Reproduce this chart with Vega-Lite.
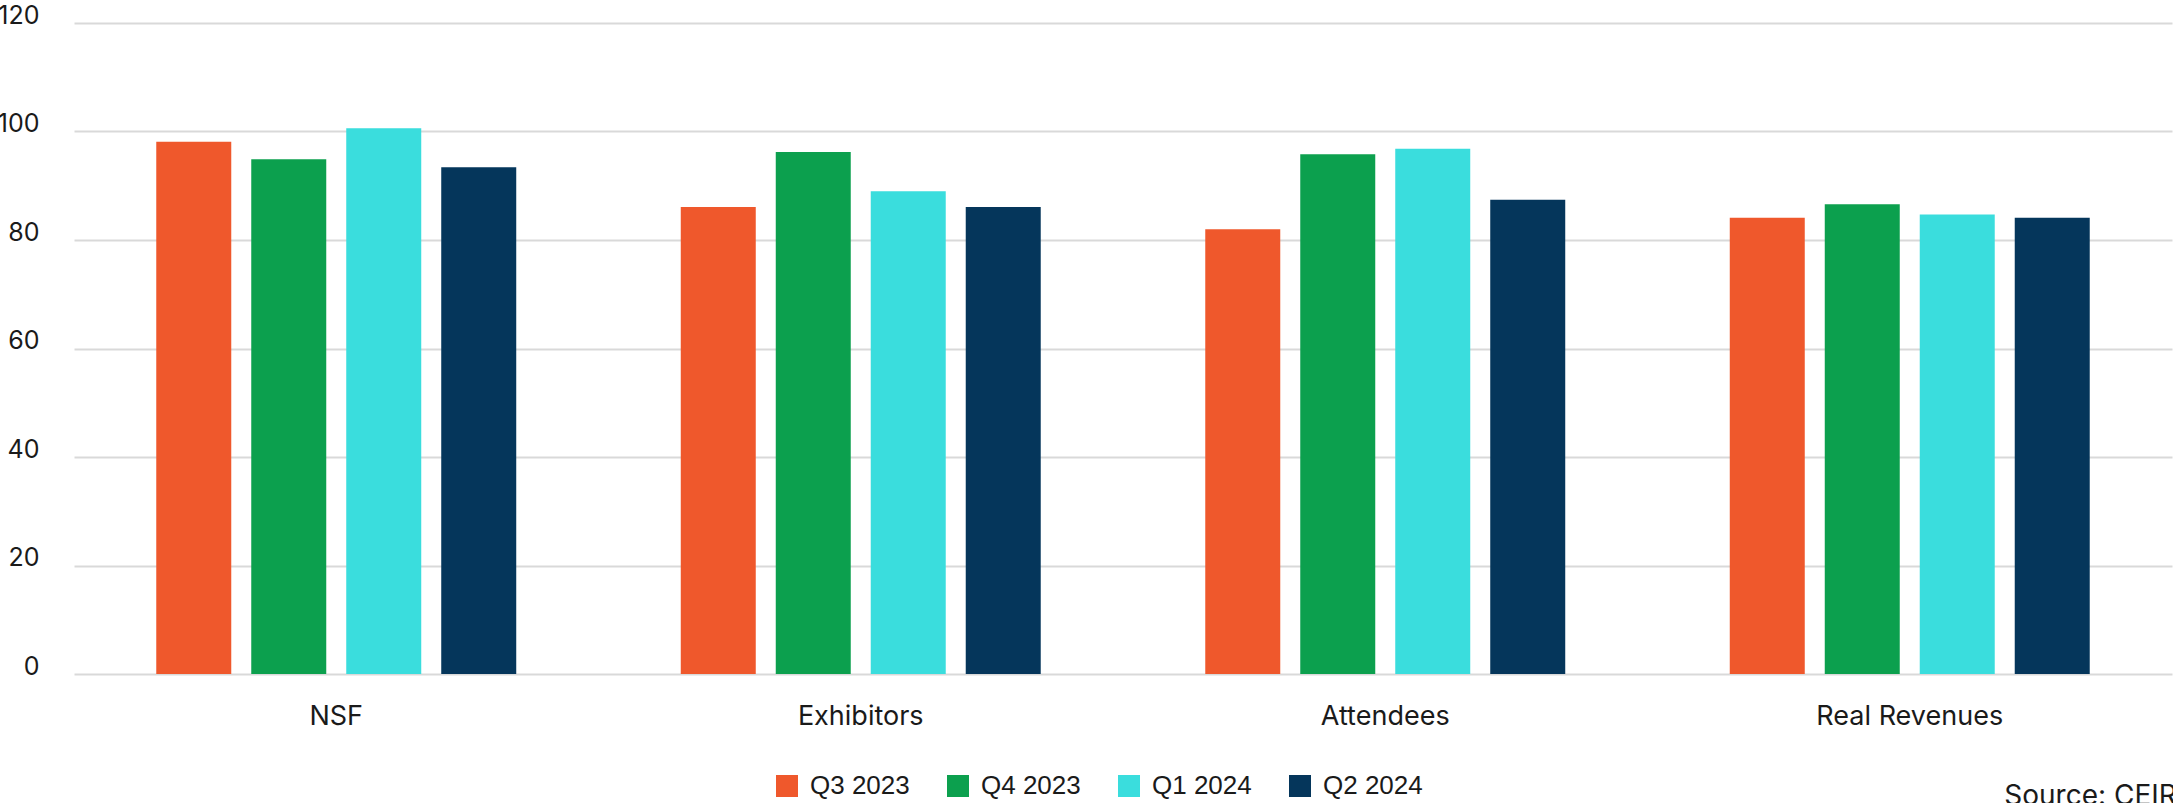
{
  "$schema": "https://vega.github.io/schema/vega-lite/v6.json",
  "width": 2098,
  "height": 651,
  "autosize": {"type": "none"},
  "padding": {"left": 74, "top": 23, "right": 1, "bottom": 129},
  "background": "#ffffff",
  "title": {
    "text": "Source: CEIR",
    "orient": "bottom",
    "anchor": "start",
    "dx": 2007,
    "offset": -16,
    "font": "Inter",
    "fontSize": 28,
    "fontWeight": "normal",
    "color": "#1a1a1a"
  },
  "data": {
    "values": [
      {"metric": "NSF", "quarter": "Q3 2023", "value": 98.1},
      {"metric": "NSF", "quarter": "Q4 2023", "value": 94.9},
      {"metric": "NSF", "quarter": "Q1 2024", "value": 100.6},
      {"metric": "NSF", "quarter": "Q2 2024", "value": 93.4},
      {"metric": "Exhibitors", "quarter": "Q3 2023", "value": 86.1},
      {"metric": "Exhibitors", "quarter": "Q4 2023", "value": 96.2},
      {"metric": "Exhibitors", "quarter": "Q1 2024", "value": 89.0},
      {"metric": "Exhibitors", "quarter": "Q2 2024", "value": 86.1},
      {"metric": "Attendees", "quarter": "Q3 2023", "value": 82.0},
      {"metric": "Attendees", "quarter": "Q4 2023", "value": 95.8},
      {"metric": "Attendees", "quarter": "Q1 2024", "value": 96.8},
      {"metric": "Attendees", "quarter": "Q2 2024", "value": 87.4},
      {"metric": "Real Revenues", "quarter": "Q3 2023", "value": 84.1},
      {"metric": "Real Revenues", "quarter": "Q4 2023", "value": 86.6},
      {"metric": "Real Revenues", "quarter": "Q1 2024", "value": 84.7},
      {"metric": "Real Revenues", "quarter": "Q2 2024", "value": 84.1}
    ]
  },
  "mark": {"type": "bar"},
  "encoding": {
    "x": {
      "field": "metric",
      "type": "nominal",
      "sort": ["NSF", "Exhibitors", "Attendees", "Real Revenues"],
      "scale": {"paddingInner": 0, "paddingOuter": 0},
      "axis": {
        "title": null,
        "domain": false,
        "ticks": false,
        "labelAngle": 0,
        "labelLimit": 0,
        "labelPadding": 29,
        "labelFont": "Inter",
        "labelFontSize": 27,
        "labelColor": "#1a1a1a"
      }
    },
    "xOffset": {
      "field": "quarter",
      "type": "nominal",
      "sort": ["Q3 2023", "Q4 2023", "Q1 2024", "Q2 2024"],
      "scale": {"paddingInner": 0.2105, "paddingOuter": 0.866}
    },
    "y": {
      "field": "value",
      "type": "quantitative",
      "scale": {"domain": [0, 120], "nice": false},
      "axis": {
        "title": null,
        "values": [0, 20, 40, 60, 80, 100, 120],
        "domain": false,
        "ticks": false,
        "grid": true,
        "gridColor": "#d9d9d9",
        "gridWidth": 2,
        "labelPadding": 35,
        "labelBaseline": "alphabetic",
        "labelFont": "Inter",
        "labelFontSize": 25,
        "labelColor": "#1a1a1a"
      }
    },
    "color": {
      "field": "quarter",
      "type": "nominal",
      "sort": ["Q3 2023", "Q4 2023", "Q1 2024", "Q2 2024"],
      "scale": {
        "domain": ["Q3 2023", "Q4 2023", "Q1 2024", "Q2 2024"],
        "range": ["#EF582C", "#0CA04E", "#3ADDDD", "#05365B"]
      },
      "legend": {
        "title": null,
        "orient": "none",
        "direction": "horizontal",
        "legendX": 700,
        "legendY": 750,
        "padding": 0,
        "symbolType": "square",
        "symbolSize": 484,
        "symbolStrokeWidth": 0,
        "labelOffset": 10,
        "columnPadding": 35,
        "labelFont": "Liberation Sans",
        "labelFontSize": 26,
        "labelColor": "#1a1a1a"
      }
    }
  },
  "config": {
    "view": {"stroke": null}
  }
}
